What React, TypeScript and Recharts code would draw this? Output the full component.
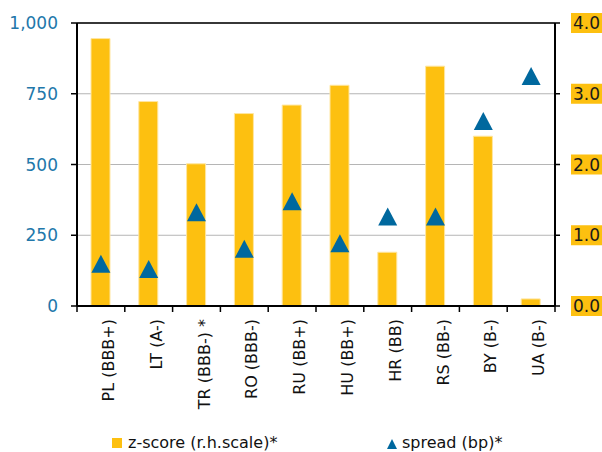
import React from "react";
import {
  ComposedChart,
  Bar,
  Scatter,
  XAxis,
  YAxis,
  CartesianGrid,
  ReferenceLine,
  Legend,
} from "recharts";

const categories = [
  "PL (BBB+)",
  "LT (A-)",
  "TR (BBB-) *",
  "RO (BBB-)",
  "RU (BB+)",
  "HU (BB+)",
  "HR (BB)",
  "RS (BB-)",
  "BY (B-)",
  "UA (B-)",
];
const zScore = [3.78, 2.89, 2.01, 2.72, 2.84, 3.12, 0.76, 3.39, 2.4, 0.1];
const spread = [149, 131, 331, 202, 370, 222, 316, 316, 654, 813];
const leftTicks = [0, 250, 500, 750, 1000];
const rightTicks = [0, 1, 2, 3, 4];

const data = categories.map((cat, i) => ({ cat, z: zScore[i], spread: spread[i] }));

const YELLOW = "#FDC010";
const BLUE = "#00689E";
const LABEL_BLUE = "#2277AA";
const FONT = "'DejaVu Sans', sans-serif";

const Triangle = (props: any) => {
  const { cx, cy } = props;
  if (cx == null || cy == null) return null;
  return (
    <polygon
      points={`${cx},${cy - 9} ${cx - 9.5},${cy + 9} ${cx + 9.5},${cy + 9}`}
      fill={BLUE}
    />
  );
};

const XTick = (props: any) => {
  const { x, y, payload, index } = props;
  const off = payload && payload.offset ? payload.offset : 23.9;
  return (
    <g>
      <line x1={x - off} y1={y} x2={x - off} y2={y + 6} stroke="#000" strokeWidth={1.5} />
      {index === categories.length - 1 && (
        <line x1={x + off} y1={y} x2={x + off} y2={y + 6} stroke="#000" strokeWidth={1.5} />
      )}
      <text
        x={x + 13}
        y={y + 13}
        transform={`rotate(-90, ${x + 13}, ${y + 13})`}
        textAnchor="end"
        fontSize={16}
        fill="#111"
        fontFamily={FONT}
      >
        {payload.value}
      </text>
    </g>
  );
};

const RightTick = (props: any) => {
  const { y, payload } = props;
  return (
    <g>
      <rect x={571} y={y - 10} width={34} height={20} fill={YELLOW} />
      <text x={573} y={y} dy="0.36em" fontSize={17} fill="#1a1a1a" fontFamily={FONT}>
        {Number(payload.value).toFixed(1)}
      </text>
    </g>
  );
};

const LeftTick = (props: any) => {
  const { y, payload } = props;
  return (
    <text x={58} y={y} dy="0.36em" textAnchor="end" fontSize={17} fill={LABEL_BLUE} fontFamily={FONT}>
      {Number(payload.value).toLocaleString("en-US")}
    </text>
  );
};

const LegendContent = () => (
  <svg width={602} height={20} style={{ overflow: "visible", display: "block" }}>
    <rect x={112} y={6} width={10} height={10} fill={YELLOW} />
    <text x={128} y={16} fontSize={16} fill="#111" fontFamily={FONT}>
      z-score (r.h.scale)*
    </text>
    <polygon points="392,7 387,17 397,17" fill={BLUE} />
    <text x={402} y={16} fontSize={16} fill="#111" fontFamily={FONT}>
      spread (bp)*
    </text>
  </svg>
);

export default function App() {
  return (
    <div style={{ width: 602, height: 452, overflow: "hidden", fontFamily: FONT }}>
      <style>{`body{margin:0;}`}</style>
      <ComposedChart
        width={602}
        height={452}
        data={data}
        margin={{ top: 23, right: 0, bottom: 0, left: 0 }}
        barCategoryGap={0}
      >
        <CartesianGrid
          yAxisId="left"
          vertical={false}
          stroke="#b5b5b5"
          strokeWidth={1}
        />
        <XAxis
          dataKey="cat"
          interval={0}
          height={146}
          tickLine={false}
          tickSize={0}
          tickMargin={0}
          axisLine={{ stroke: "#000", strokeWidth: 2 }}
          tick={<XTick />}
        />
        <YAxis
          yAxisId="left"
          orientation="left"
          width={77}
          domain={[0, 1000]}
          ticks={leftTicks}
          tickSize={6}
          tickLine={{ stroke: "#000", strokeWidth: 1.5 }}
          axisLine={{ stroke: "#000", strokeWidth: 2 }}
          tick={<LeftTick />}
        />
        <YAxis
          yAxisId="right"
          orientation="right"
          width={47}
          domain={[0, 4]}
          ticks={rightTicks}
          tickSize={5}
          tickLine={{ stroke: "#000", strokeWidth: 1.5 }}
          axisLine={{ stroke: "#000", strokeWidth: 2 }}
          tick={<RightTick />}
        />
        <ReferenceLine yAxisId="left" y={1000} stroke="#000" strokeWidth={1.5} />
        <Bar
          yAxisId="right"
          dataKey="z"
          barSize={19}
          fill={YELLOW}
          stroke="#FFE6A0"
          strokeWidth={1}
          isAnimationActive={false}
        />
        <Scatter
          yAxisId="left"
          dataKey="spread"
          shape={<Triangle />}
          isAnimationActive={false}
        />
        <Legend
          layout="horizontal"
          verticalAlign="middle"
          align="center"
          content={<LegendContent />}
          wrapperStyle={{ top: 432, left: 0, width: 602 }}
        />
      </ComposedChart>
    </div>
  );
}
